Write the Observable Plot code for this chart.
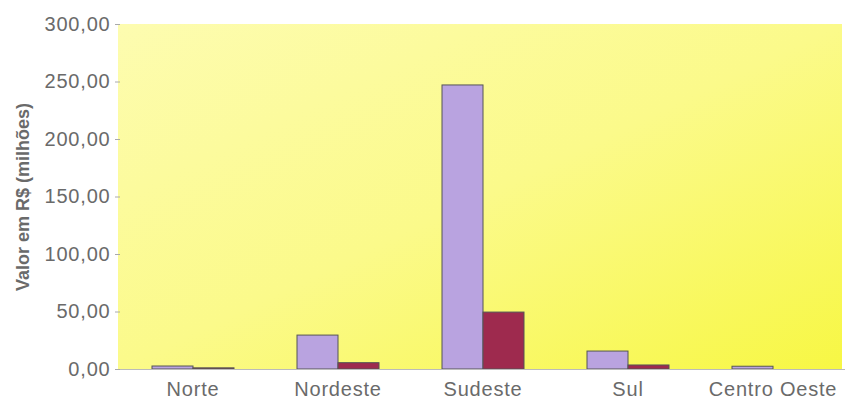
<!DOCTYPE html>
<html><head><meta charset="utf-8">
<script src="https://cdn.jsdelivr.net/npm/d3@7"></script>
<script src="https://cdn.jsdelivr.net/npm/@observablehq/plot@0.6"></script>
<style>body{margin:0;background:#fff}</style></head>
<body><div id="chart"></div>
<script>
const regions = ["Norte", "Nordeste", "Sudeste", "Sul", "Centro Oeste"];
const series = ["A", "B"];
const valuesA = [2.6, 29.5, 247, 15.6, 2.4];
const valuesB = [1.0, 5.5, 49.5, 3.5, 0.0];
const yTicks = [0, 50, 100, 150, 200, 250, 300];
const yLabel = "Valor em R$ (milhões)";

const data = regions.flatMap((r, i) => [
  {region: r, serie: "A", value: valuesA[i]},
  {region: r, serie: "B", value: valuesB[i]}
]);

const W = 854, H = 403, mL = 118, mR = 8, mT = 24, mB = 34;
const chart = Plot.plot({
  width: W, height: H, marginLeft: mL, marginRight: mR, marginTop: mT, marginBottom: mB,
  style: {fontFamily: "'Liberation Sans', Arial, sans-serif", fontSize: "20px", letterSpacing: "0.8px", color: "#6a6a6a", background: "transparent"},
  fx: {domain: regions, paddingInner: 0, paddingOuter: 0, label: null},
  x: {domain: series, paddingInner: 0, paddingOuter: 0.738, axis: null},
  y: {domain: [0, 300], axis: null},
  color: {domain: series, range: ["#b9a3e0", "#9e2a4e"]},
  marks: [
    Plot.axisY(yTicks, {tickFormat: d => d.toFixed(2).replace(".", ","), tickSize: 5, tickPadding: 5, stroke: "#aaa",
      fontSize: 20, label: yLabel, labelAnchor: "center", labelOffset: 104, labelArrow: "none"}),
    Plot.axisFx({anchor: "bottom", tickSize: 0, tickPadding: 12, fontSize: 20, label: null}),
    Plot.barY(data, {fx: "region", x: "serie", y: "value", fill: "serie", stroke: "#555", strokeWidth: 1}),
    Plot.ruleY([0], {stroke: "#bbb", strokeWidth: 1})
  ]
});

// background gradient of plot area
const ns = "http://www.w3.org/2000/svg";
const defs = document.createElementNS(ns, "defs");
defs.innerHTML = `<linearGradient id="bg" x1="0" y1="0" x2="1" y2="1">
  <stop offset="0" stop-color="#fdfcb0"/><stop offset="0.5" stop-color="#fbfa8a"/><stop offset="1" stop-color="#f7f744"/></linearGradient>`;
const rect = document.createElementNS(ns, "rect");
rect.setAttribute("x", mL); rect.setAttribute("y", mT);
rect.setAttribute("width", W - mL - mR - 4); rect.setAttribute("height", H - mT - mB);
rect.setAttribute("fill", "url(#bg)");
const ref = chart.querySelector("style") ? chart.querySelector("style").nextSibling : chart.firstChild;
chart.insertBefore(defs, ref);
chart.insertBefore(rect, ref);
chart.querySelectorAll("[aria-label='y-axis label']").forEach(g => {
  g.setAttribute("font-weight", "bold"); g.setAttribute("font-size", "18");
  g.setAttribute("letter-spacing", "0");
  g.querySelectorAll("text").forEach(t => {
    t.setAttribute("font-weight", "bold"); t.setAttribute("font-size", "18");
    t.style.letterSpacing = "0px";
    t.textContent = t.textContent.replace(/[↑→↓←]/g, "").trim();
  });
});
document.getElementById("chart").appendChild(chart);
</script></body></html>
